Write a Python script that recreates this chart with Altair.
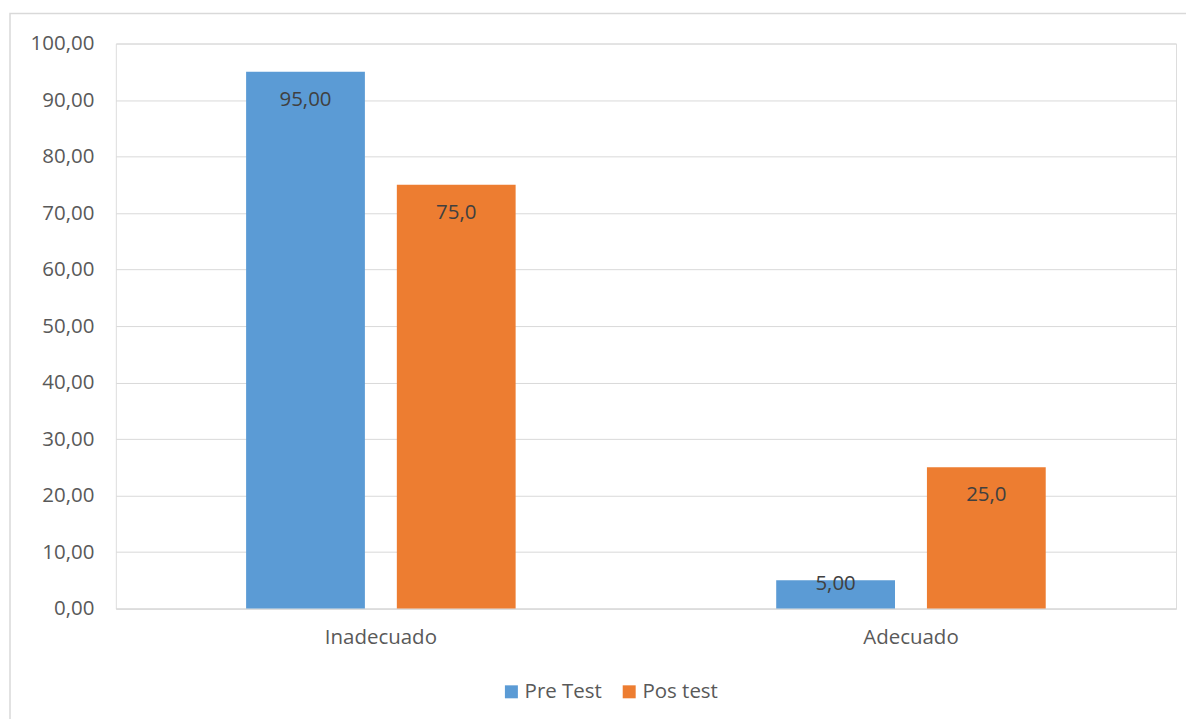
import altair as alt
import pandas as pd

categories = ["Inadecuado", "Inadecuado", "Adecuado", "Adecuado"]
series = ["Pre Test", "Pos test", "Pre Test", "Pos test"]
values = [95.0, 75.0, 5.0, 25.0]
labels = ["95,00", "75,0", "5,00", "25,0"]

df = pd.DataFrame({"cat": categories, "serie": series, "val": values, "lab": labels})

FONT = "Open Sans"
FS = 20.5
cat_order = ["Inadecuado", "Adecuado"]
ser_order = ["Pre Test", "Pos test"]

x = alt.X("cat:N", sort=cat_order, title=None,
          scale=alt.Scale(paddingInner=0, paddingOuter=0),
          axis=alt.Axis(labelAngle=0, ticks=False, domain=True, domainColor="#d9d9d9",
                        labelFont=FONT, labelFontSize=FS, labelColor="#595959",
                        labelPadding=19, grid=False))
xo = alt.XOffset("serie:N", sort=ser_order,
                 scale=alt.Scale(paddingInner=0.2119, paddingOuter=0.8644))
y = alt.Y("val:Q", title=None,
          scale=alt.Scale(domain=[0, 100], nice=False),
          axis=alt.Axis(values=list(range(0, 101, 10)), format=".2f", labelExpr="replace(datum.label, '.', ',')",
                        ticks=False, domain=False, gridColor="#d9d9d9", gridWidth=1,
                        labelFont=FONT, labelFontSize=FS, labelColor="#595959", labelPadding=22))
color = alt.Color("serie:N", sort=ser_order, title=None,
                  scale=alt.Scale(domain=ser_order, range=["#5b9bd5", "#ed7d31"]),
                  legend=alt.Legend(orient="none", legendX=386, legendY=639, direction="horizontal",
                                    symbolType="square", symbolSize=169, symbolStrokeWidth=0,
                                    labelFont=FONT, labelFontSize=FS, labelColor="#595959",
                                    columnPadding=17, labelOffset=3))

base = alt.Chart(df)
bars = base.mark_bar(stroke=None).encode(x=x, xOffset=xo, y=y, color=color)
text_big = base.transform_filter("datum.val >= 10").mark_text(
    baseline="middle", dy=28, font=FONT, fontSize=FS, color="#404040"
).encode(x=x, xOffset=xo, y=y, text="lab:N")
text_small = base.transform_filter("datum.val < 10").mark_text(
    baseline="middle", dy=4, font=FONT, fontSize=FS, color="#404040"
).encode(x=x, xOffset=xo, y=y, text="lab:N")

border = alt.Chart(pd.DataFrame({"a": [0]})).mark_rect(
    fill=None, stroke="#d9d9d9", strokeWidth=1.5, clip=False
).encode(x=alt.value(-106), x2=alt.value(1074), y=alt.value(-30), y2=alt.value(690))

chart = alt.layer(border, bars, text_big, text_small).properties(
    width=1062, height=566,
    autosize=alt.AutoSizeParams(type="none"),
    padding={"left": 108, "top": 35, "right": 10, "bottom": 110},
).configure_view(stroke=None).configure(background="white")

chart.save("out.html", embed_options={"renderer": "svg", "actions": False})
